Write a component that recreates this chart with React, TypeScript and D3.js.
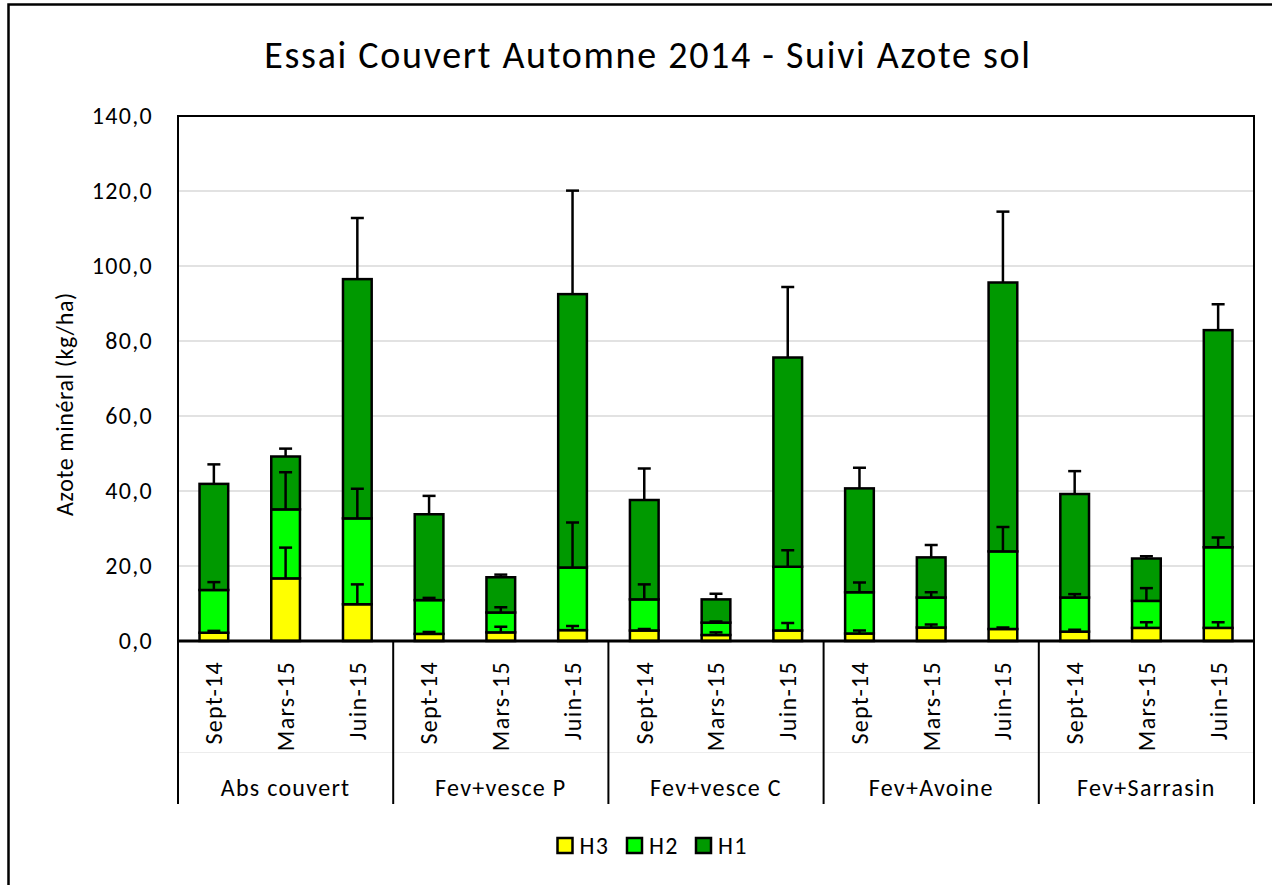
import React from "react";
import * as d3 from "d3";

const groups = ["Abs couvert", "Fev+vesce P", "Fev+vesce C", "Fev+Avoine", "Fev+Sarrasin"];
const dates = ["Sept-14", "Mars-15", "Juin-15"];
const seriesNames = ["H3", "H2", "H1"];

// stacked values per bar (groups x dates, row-major)
const h3 = [2.2, 16.7, 9.8, 1.9, 2.3, 2.9, 2.8, 1.6, 2.8, 2.0, 3.6, 3.2, 2.5, 3.5, 3.5];
const h2 = [11.4, 18.4, 22.9, 9.0, 5.3, 16.7, 8.3, 3.3, 17.0, 11.0, 8.0, 20.7, 9.1, 7.2, 21.5];
const h1 = [28.3, 14.1, 63.8, 22.9, 9.4, 72.9, 26.5, 6.2, 55.8, 27.7, 10.7, 71.7, 27.6, 11.3, 57.9];

const h3Err = [0.5, 8.2, 5.3, 0.5, 1.5, 1.1, 0.4, 0.7, 2.0, 0.8, 0.8, 0.4, 0.5, 1.5, 1.5];
const h2Err = [2.1, 9.9, 7.9, 0.6, 1.4, 12.0, 4.0, 0.3, 4.4, 2.6, 1.4, 6.5, 0.9, 3.4, 2.6];
const h1Err = [5.2, 2.1, 16.3, 4.9, 0.7, 27.6, 8.4, 1.5, 18.8, 5.5, 3.3, 18.9, 6.1, 0.6, 6.9];

const yTicks = [0, 20, 40, 60, 80, 100, 120, 140];
const colors = ["#FFFF00", "#00FF00", "#009900"];

const FONT = "Carlito, Lato, 'Open Sans', sans-serif";

export default function App() {
  const left = 178, right = 1254, top = 116, bottom = 641;
  const keys = groups.flatMap((g) => dates.map((d) => g + "|" + d));
  const x = d3.scaleBand<string>().domain(keys).range([left, right]).paddingInner(0.6).paddingOuter(0.3);
  const step = (right - left) / keys.length;
  const y = d3.scaleLinear().domain([0, 140]).range([bottom, top]);
  const fmt = (v: number) => d3.format(".1f")(v).replace(".", ",");

  const vals = [h3, h2, h1];
  const errs = [h3Err, h2Err, h1Err];
  const table = keys.map((k, i) => {
    const row: any = { key: k };
    seriesNames.forEach((s, j) => (row[s] = vals[j][i]));
    return row;
  });
  const stacked = d3.stack<any>().keys(seriesNames)(table);

  const capW = 13;
  const fs = 24;
  const ls = 1.3;

  return (
    <svg width={1272} height={885} style={{ position: "absolute", left: 0, top: 0 }} fontFamily={FONT}>
      <rect x={0} y={0} width={1272} height={885} fill="#fff" />
      <rect x={8.5} y={4.5} width={1300} height={920} fill="none" stroke="#000" strokeWidth={2.5} />
      <text x={648} y={68} textAnchor="middle" fontSize={38} letterSpacing={1.7} fill="#000">
        Essai Couvert Automne 2014 - Suivi Azote sol
      </text>

      {/* gridlines */}
      {yTicks.filter((t) => t > 0 && t < 140).map((t) => (
        <line key={t} x1={left} x2={right} y1={y(t)} y2={y(t)} stroke="#d9d9d9" strokeWidth={1.5} />
      ))}

      {/* y tick labels */}
      {yTicks.map((t) => (
        <text key={t} x={153} y={y(t)} dy="0.34em" textAnchor="end" fontSize={fs} letterSpacing={ls} fill="#000">
          {fmt(t)}
        </text>
      ))}
      <text transform={`translate(73,404) rotate(-90)`} textAnchor="middle" fontSize={24} letterSpacing={0.6} fill="#000">
        Azote minéral (kg/ha)
      </text>

      {/* bars */}
      {stacked.map((layer, j) =>
        layer.map((d, i) => (
          <rect
            key={j + "-" + i}
            x={x(keys[i])}
            y={y(d[1])}
            width={x.bandwidth()}
            height={y(d[0]) - y(d[1])}
            fill={colors[j]}
            stroke="#000"
            strokeWidth={2.5}
          />
        ))
      )}

      {/* error bars */}
      {stacked.map((layer, j) =>
        layer.map((d, i) => {
          const cx = (x(keys[i]) as number) + x.bandwidth() / 2;
          const y0 = y(d[1]);
          const y1 = y(d[1] + errs[j][i]);
          return (
            <g key={"e" + j + "-" + i} stroke="#000" strokeWidth={2.5}>
              <line x1={cx} x2={cx} y1={y0} y2={y1} />
              <line x1={cx - capW / 2} x2={cx + capW / 2} y1={y1} y2={y1} />
            </g>
          );
        })
      )}

      {/* plot border */}
      <rect x={left} y={top} width={right - left} height={bottom - top} fill="none" stroke="#000" strokeWidth={2} />
      <line x1={left} x2={right} y1={bottom} y2={bottom} stroke="#000" strokeWidth={3} />

      {/* category axis */}
      <line x1={left} x2={right} y1={752.5} y2={752.5} stroke="#ececec" strokeWidth={1} />
      {d3.range(groups.length + 1).map((g) => {
        const gx = left + g * 3 * step;
        return <line key={"s" + g} x1={gx} x2={gx} y1={bottom} y2={804} stroke="#000" strokeWidth={2} />;
      })}
      {keys.map((k, i) => {
        const cx = (x(k) as number) + x.bandwidth() / 2;
        return (
          <text key={"t" + i} transform={`translate(${cx},661) rotate(-90)`} textAnchor="end" dy="0.35em" fontSize={fs} letterSpacing={ls} fill="#000">
            {dates[i % 3]}
          </text>
        );
      })}
      {groups.map((g, gi) => (
        <text key={g} x={left + (gi * 3 + 1.5) * step} y={796} textAnchor="middle" fontSize={fs} letterSpacing={ls} fill="#000">
          {g}
        </text>
      ))}

      {/* legend */}
      {seriesNames.map((s, j) => {
        const lx = [557.5, 627, 696][j];
        return (
          <g key={s}>
            <rect x={lx} y={838} width={15} height={15} fill={colors[j]} stroke="#000" strokeWidth={2.5} />
            <text x={lx + 22} y={854} fontSize={fs} letterSpacing={ls} fill="#000">
              {s}
            </text>
          </g>
        );
      })}
    </svg>
  );
}
